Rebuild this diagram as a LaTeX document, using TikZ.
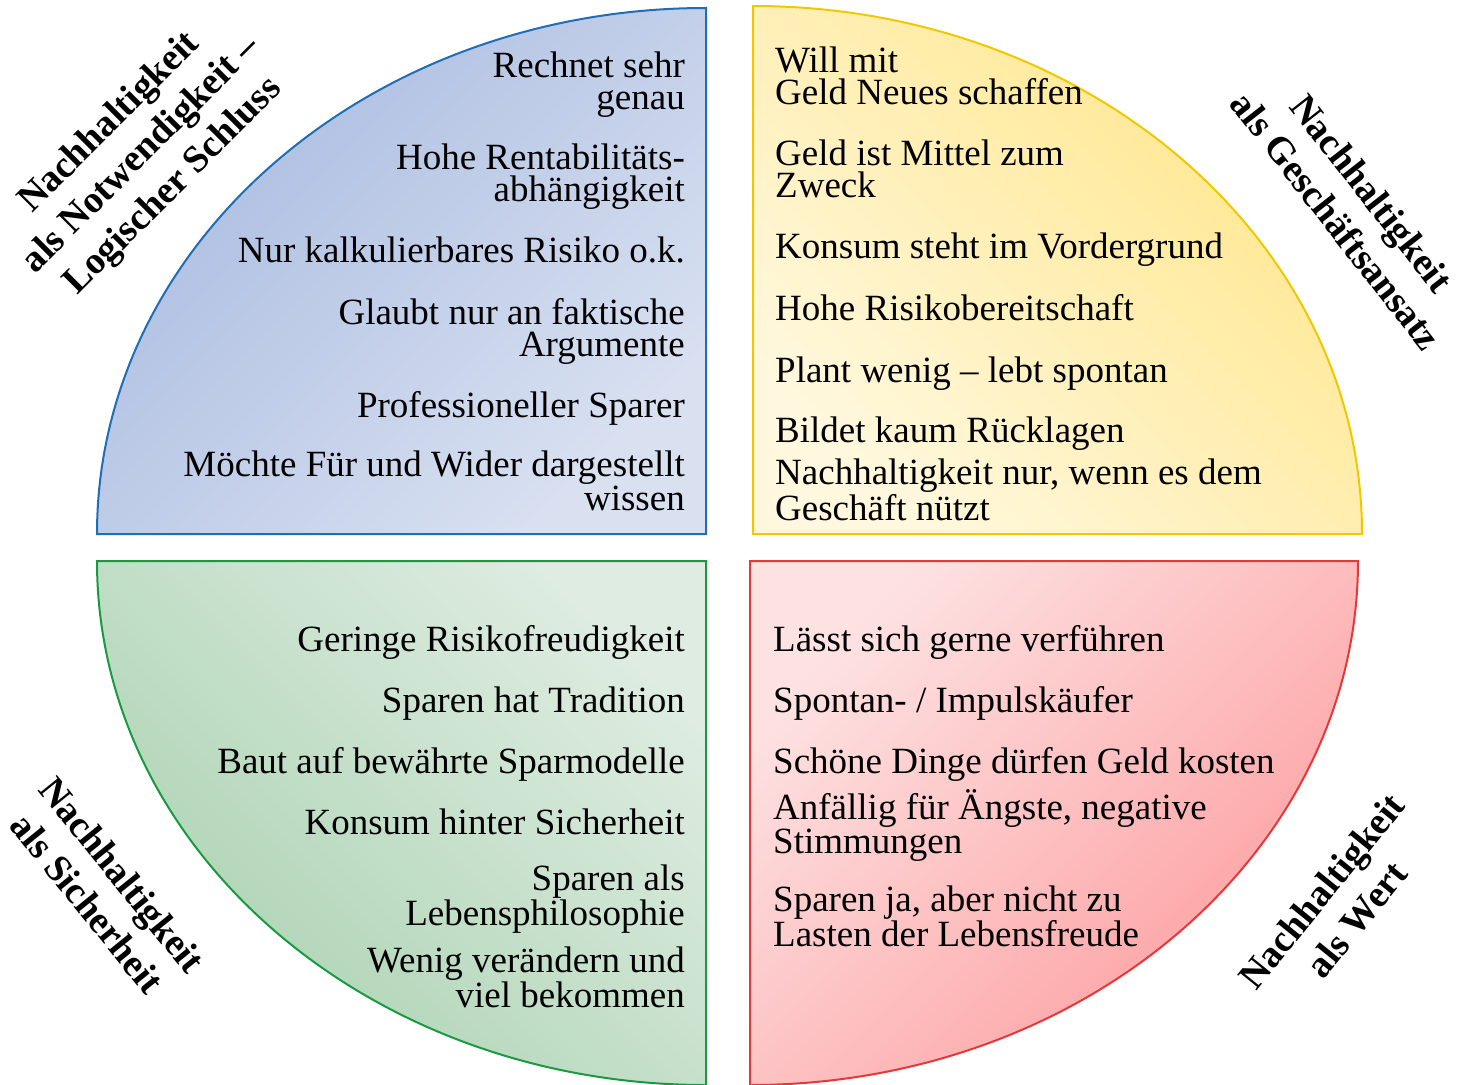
\documentclass[tikz,border=0pt]{standalone}
\usepackage{fontspec}
\setmainfont{Liberation Serif}
\definecolor{bluedark}{HTML}{A9BBE0}
\definecolor{bluelight}{HTML}{D9E1F1}
\definecolor{blueline}{HTML}{1F6DB4}
\definecolor{yeldark}{HTML}{FFE68A}
\definecolor{yellight}{HTML}{FFF8DE}
\definecolor{yelline}{HTML}{F0C800}
\definecolor{grndark}{HTML}{AAD2B1}
\definecolor{grnlight}{HTML}{DEECE1}
\definecolor{grnline}{HTML}{1A9A40}
\definecolor{reddark}{HTML}{FD9C9E}
\definecolor{redlight}{HTML}{FDE2E2}
\definecolor{redline}{HTML}{E5383B}
\begin{document}
\begin{tikzpicture}[x=1pt,y=-1pt,
  quad/.style={line width=2pt},
  item/.style={font=\fontsize{37}{32}\selectfont, inner sep=0pt},
  itemL/.style={item, anchor=base east, align=right},
  itemR/.style={item, anchor=base west, align=left},
  lab/.style={font=\fontsize{38}{45}\selectfont\bfseries, align=center, inner sep=0pt}]
\useasboundingbox (0,0) rectangle (1458,1084);
% quadrants
\draw[quad, draw=blueline, top color=bluedark, bottom color=bluelight, shading angle=45]
  (706,534) -- (97,534) arc[start angle=180, end angle=90, x radius=609pt, y radius=526pt] -- cycle;
\draw[quad, draw=yelline, top color=yeldark, bottom color=yellight, shading angle=-45]
  (753,534) -- (1362,534) arc[start angle=0, end angle=90, x radius=609pt, y radius=528pt] -- cycle;
\draw[quad, draw=grnline, top color=grnlight, bottom color=grndark, shading angle=-45]
  (706,561) -- (97,561) arc[start angle=180, end angle=270, x radius=609pt, y radius=524pt] -- cycle;
\draw[quad, draw=redline, top color=redlight, bottom color=reddark, shading angle=45]
  (750,561) -- (1358,561) arc[start angle=0, end angle=-90, x radius=608pt, y radius=524pt] -- cycle;
% top left (anchor = baseline of last line)
\node[itemL] (tl1) at (685,109) {Rechnet sehr\\genau};
\node[itemL] (tl2) at (685,201) {Hohe Rentabilitäts-\\abhängigkeit};
\node[itemL] (tl3) at (685,262) {Nur kalkulierbares Risiko o.k.};
\node[itemL] (tl4) at (685,356) {Glaubt nur an faktische\\Argumente};
\node[itemL] (tl5) at (685,417) {Professioneller Sparer};
\node[itemL] (tl6) at (685,510) {Möchte Für und Wider dargestellt\\wissen};
% top right
\node[itemR] (tr1) at (775,104) {Will mit\\Geld Neues schaffen};
\node[itemR] (tr2) at (775,197) {Geld ist Mittel zum\\Zweck};
\node[itemR] (tr3) at (775,258) {Konsum steht im Vordergrund};
\node[itemR] (tr4) at (775,320) {Hohe Risikobereitschaft};
\node[itemR] (tr5) at (775,382) {Plant wenig – lebt spontan};
\node[itemR] (tr6) at (775,442) {Bildet kaum Rücklagen};
\node[itemR] (tr7) at (775,520) {Nachhaltigkeit nur, wenn es dem\\Geschäft nützt};
% bottom left
\node[itemL] (bl1) at (685,651) {Geringe Risikofreudigkeit};
\node[itemL] (bl2) at (685,712) {Sparen hat Tradition};
\node[itemL] (bl3) at (685,773) {Baut auf bewährte Sparmodelle};
\node[itemL] (bl4) at (685,834) {Konsum hinter Sicherheit};
\node[itemL] (bl5) at (685,925) {Sparen als\\Lebensphilosophie};
\node[itemL] (bl6) at (685,1007) {Wenig verändern und\\viel bekommen};
% bottom right
\node[itemR] (br1) at (773,651) {Lässt sich gerne verführen};
\node[itemR] (br2) at (773,712) {Spontan- / Impulskäufer};
\node[itemR] (br3) at (773,773) {Schöne Dinge dürfen Geld kosten};
\node[itemR] (br4) at (773,853) {Anfällig für Ängste, negative\\Stimmungen};
\node[itemR] (br5) at (773,946) {Sparen ja, aber nicht zu\\Lasten der Lebensfreude};
% labels
\node[lab, rotate=45] (labTL) at (142,155) {Nachhaltigkeit\\als Notwendigkeit –\\Logischer Schluss};
\node[lab, rotate=-52] (labTR) at (1354,207) {Nachhaltigkeit\\als Geschäftsansatz};
\node[lab, rotate=-51] (labBL) at (105,889) {Nachhaltigkeit\\als Sicherheit};
\node[lab, rotate=51] (labBR) at (1339,905) {Nachhaltigkeit\\als Wert};
\end{tikzpicture}
\end{document}
